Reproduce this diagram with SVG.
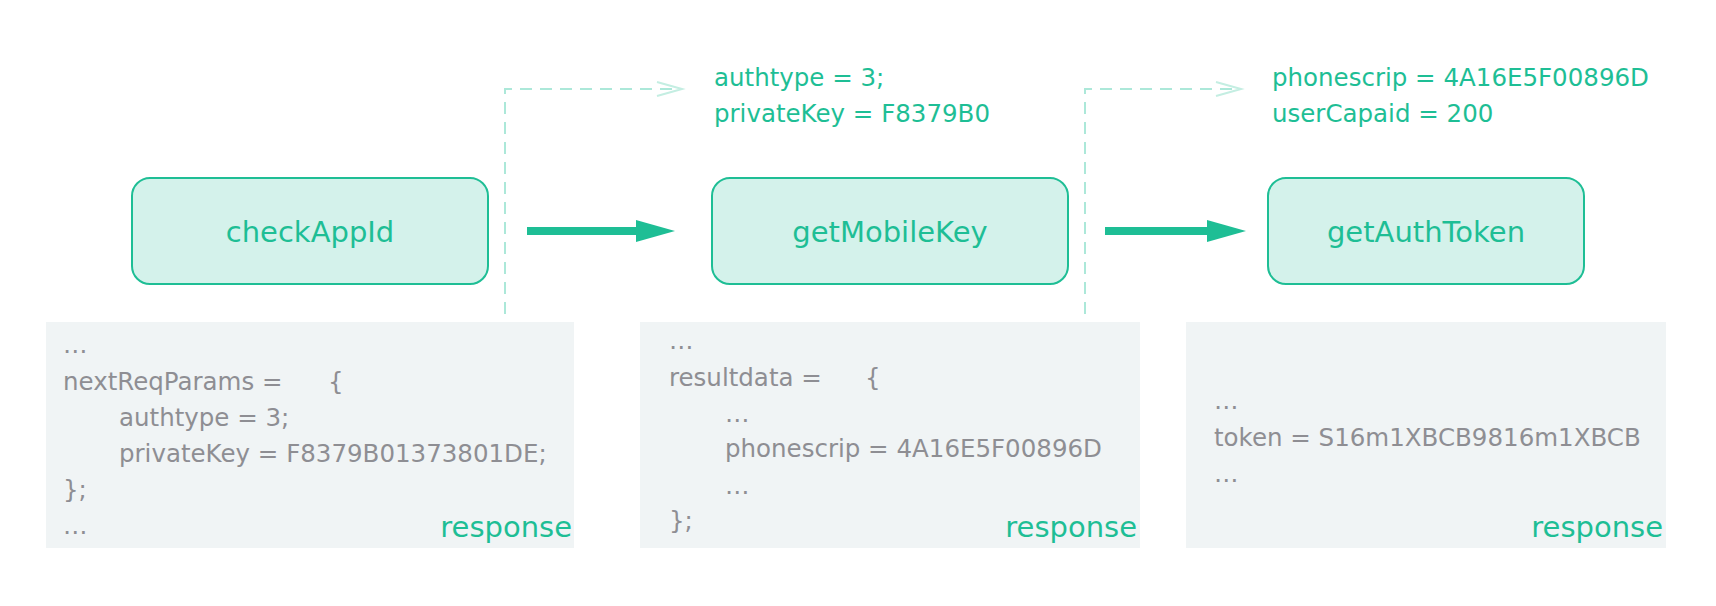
<svg xmlns="http://www.w3.org/2000/svg" width="1716" height="606" viewBox="0 0 1716 606">
<style>
.node rect{fill:#d4f2eb;stroke:#1ebe95;stroke-width:2}
.lbl{font-family:"DejaVu Sans",sans-serif;font-size:29px;fill:#1ebe95;text-anchor:middle}
.resp rect{fill:#f0f4f5}
.code{font-family:"DejaVu Sans",sans-serif;font-size:24.5px;fill:#8e8e93}
.rtag{font-family:"DejaVu Sans",sans-serif;font-size:29px;fill:#1ebe95;text-anchor:end}
.param{font-family:"DejaVu Sans",sans-serif;font-size:24.5px;fill:#1ebe95}
.flow{stroke:#1ebe95;stroke-width:8;fill:none;marker-end:url(#ah)}
.dash{stroke:#ace8d9;stroke-width:2;stroke-dasharray:12 8;fill:none;marker-end:url(#open)}
</style>
<defs>
<marker id="ah" markerUnits="userSpaceOnUse" markerWidth="40" markerHeight="24" viewBox="0 0 40 24" refX="4" refY="12" orient="auto">
<path d="M0,1 L39,12 L0,23 z" fill="#1ebe95"/>
</marker>
<marker id="open" markerUnits="userSpaceOnUse" markerWidth="30" markerHeight="18" viewBox="0 0 30 18" refX="26" refY="9" orient="auto">
<path d="M1,2 L26,9 L1,16" fill="none" stroke="#c4eee2" stroke-width="2"/>
</marker>
</defs>
<rect width="1716" height="606" fill="#ffffff"/>

<g id="connectors">
<path class="dash" d="M505,314 V89 H682"/>
<path class="dash" d="M1085,314 V89 H1241"/>
<path class="flow" d="M527,231 H640"/>
<path class="flow" d="M1105,231 H1211"/>
</g>

<g id="node-checkAppId" class="node">
<rect x="132" y="178" width="356" height="106" rx="18"/>
<text class="lbl" x="310" y="241.5">checkAppId</text>
</g>
<g id="node-getMobileKey" class="node">
<rect x="712" y="178" width="356" height="106" rx="18"/>
<text class="lbl" x="890" y="241.5">getMobileKey</text>
</g>
<g id="node-getAuthToken" class="node">
<rect x="1268" y="178" width="316" height="106" rx="18"/>
<text class="lbl" x="1426" y="241.5">getAuthToken</text>
</g>

<g id="params-1">
<text class="param" x="714" y="86">authtype = 3;</text>
<text class="param" x="714" y="122">privateKey = F8379B0</text>
</g>
<g id="params-2">
<text class="param" x="1272" y="86">phonescrip = 4A16E5F00896D</text>
<text class="param" x="1272" y="122">userCapaid = 200</text>
</g>

<g id="response-1" class="resp">
<rect x="46" y="322" width="528" height="226"/>
<text class="code" x="63" y="353">…</text>
<text class="code" x="63" y="390">nextReqParams =</text>
<text class="code" x="328" y="390">{</text>
<text class="code" x="119" y="426">authtype = 3;</text>
<text class="code" x="119" y="462">privateKey = F8379B01373801DE;</text>
<text class="code" x="63" y="498">};</text>
<text class="code" x="63" y="534">…</text>
<text class="rtag" x="572" y="537">response</text>
</g>

<g id="response-2" class="resp">
<rect x="640" y="322" width="500" height="226"/>
<text class="code" x="669" y="349">…</text>
<text class="code" x="669" y="386">resultdata =</text>
<text class="code" x="865" y="386">{</text>
<text class="code" x="725" y="422">…</text>
<text class="code" x="725" y="457">phonescrip = 4A16E5F00896D</text>
<text class="code" x="725" y="494">…</text>
<text class="code" x="669" y="529">};</text>
<text class="rtag" x="1137" y="537">response</text>
</g>

<g id="response-3" class="resp">
<rect x="1186" y="322" width="480" height="226"/>
<text class="code" x="1214" y="409">…</text>
<text class="code" x="1214" y="446">token = S16m1XBCB9816m1XBCB</text>
<text class="code" x="1214" y="482">…</text>
<text class="rtag" x="1663" y="537">response</text>
</g>
</svg>
